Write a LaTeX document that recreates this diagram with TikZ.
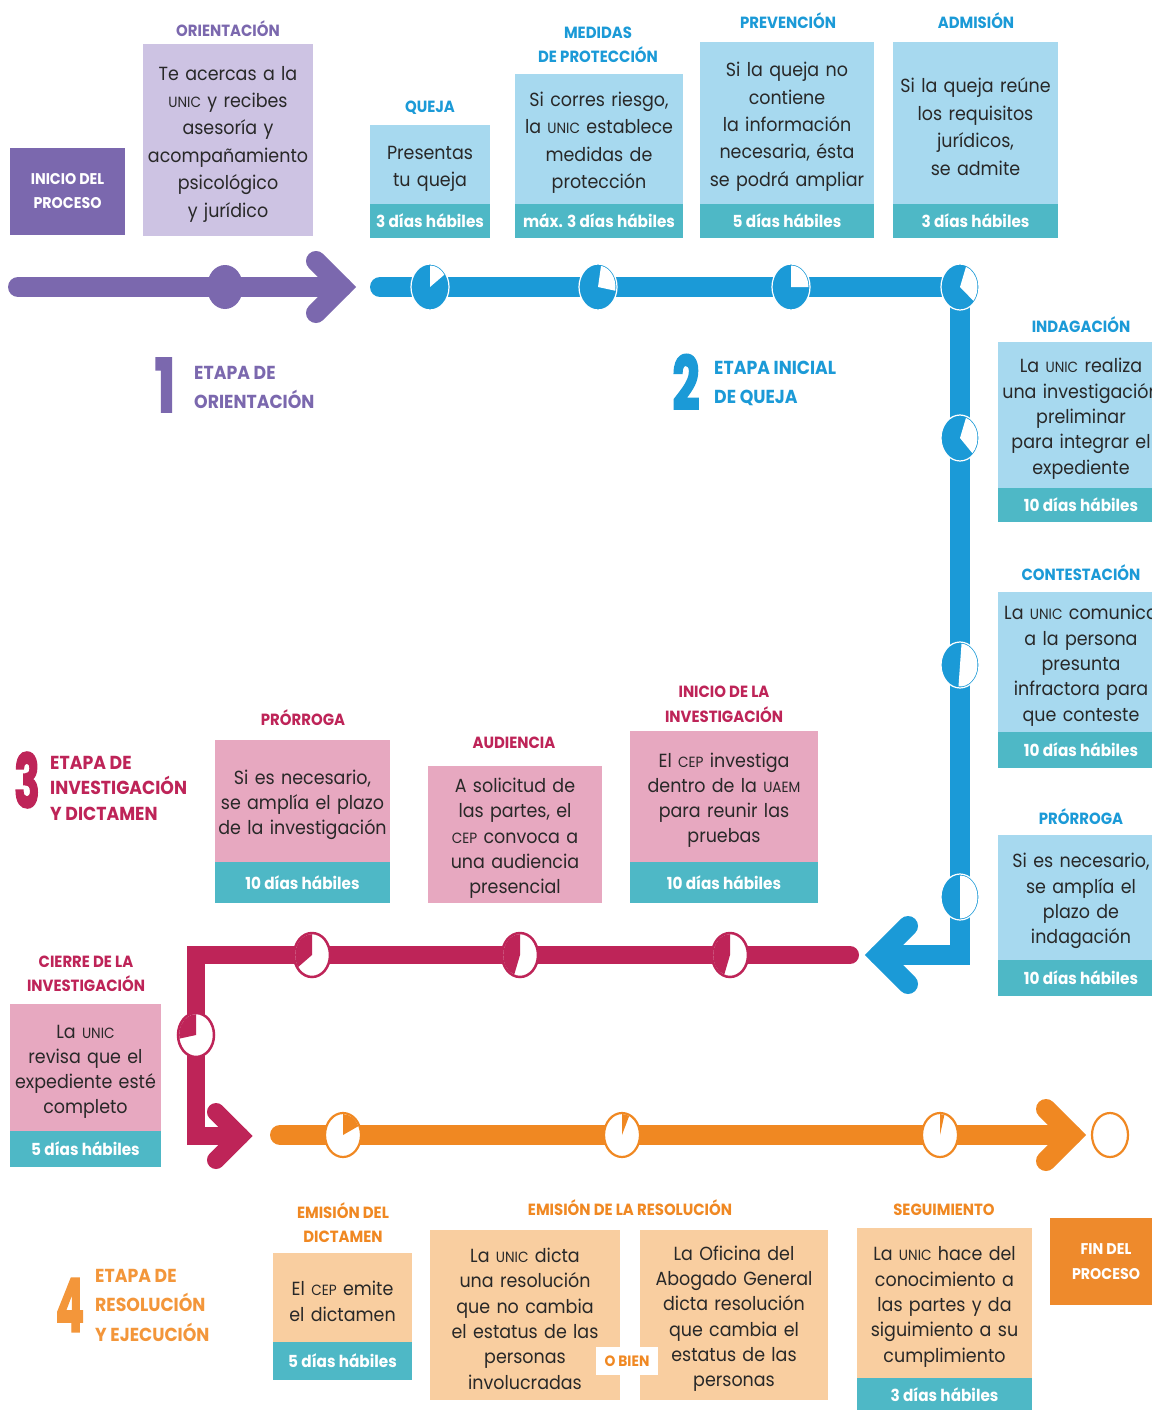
\documentclass[tikz,border=0pt]{standalone}
\usepackage{fontspec}
\setmainfont{Poppins}[FakeStretch=0.92]
\usepackage{graphicx}
\usetikzlibrary{shapes.geometric}
\pgfdeclarelayer{bg}
\pgfsetlayers{bg,main}

\definecolor{purD}{RGB}{123,104,174}
\definecolor{purL}{RGB}{205,195,227}
\definecolor{blu}{RGB}{27,154,215}
\definecolor{bluL}{RGB}{167,217,239}
\definecolor{barT}{RGB}{78,184,198}
\definecolor{mag}{RGB}{190,36,88}
\definecolor{magL}{RGB}{231,168,192}
\definecolor{ora}{RGB}{240,136,34}
\definecolor{oraS}{RGB}{243,150,58}
\definecolor{oraL}{RGB}{249,206,160}
\definecolor{oraD}{RGB}{238,138,44}
\definecolor{txt}{RGB}{40,40,40}

\newcommand\sca[1]{\scalebox{0.78}{#1}}
\newcommand\wdg[6]{\fill[#6] (#1.center) -- ++({-(#2)}:#4 and #5) arc[start angle={-(#2)}, end angle={-(#3)}, x radius=#4, y radius=#5] -- cycle;}

\begin{document}
\begin{tikzpicture}[x=1pt,y=-1pt,
  body/.style={inner sep=0pt, outer sep=0pt, align=center, text=txt, font=\fontsize{19}{25.3}\selectfont, execute at begin node={\rule{0pt}{22pt}}},
  bodyT/.style={body, font=\fontsize{19}{27.4}\selectfont},
  bar/.style={inner sep=0pt, outer sep=0pt, fill=barT, text=white, font=\fontsize{16.6}{18}\selectfont\bfseries},
  ttl/.style={inner sep=0pt, align=center, font=\fontsize{16.2}{24.5}\selectfont\bfseries},
  stg/.style={inner sep=0pt, align=left, anchor=west, font=\fontsize{18.8}{29}\selectfont\bfseries},
  num/.style={inner sep=0pt, font=\fontsize{74}{74}\selectfont\bfseries\addfontfeature{FakeBold=2.5}},
  bicon/.style={ellipse, minimum width=38pt, minimum height=46pt, fill=blu, draw=white, line width=1.2pt, inner sep=0pt},
  micon/.style={ellipse, minimum width=36pt, minimum height=44pt, fill=white, draw=mag, line width=2.5pt, inner sep=0pt},
  oicon/.style={ellipse, minimum width=36pt, minimum height=44pt, fill=white, draw=ora, line width=2.2pt, inner sep=0pt},
  picon/.style={ellipse, minimum width=36pt, minimum height=44pt, fill=purD, inner sep=0pt},
  ln/.style={line width=20pt, line cap=round, line join=miter}]

\useasboundingbox (0,0) rectangle (1151,1410);
\begin{pgfonlayer}{bg}
\fill[white] (0,0) rectangle (1151,1410);
\end{pgfonlayer}

% ---------- coordinates of the timelines ----------
\coordinate (ps) at (18,287);
\coordinate (ptip) at (342,287);
\coordinate (pa1) at (316,261);
\coordinate (pa2) at (316,313);
\coordinate (bs) at (380,287);
\coordinate (bcor) at (960,955);
\coordinate (btip) at (879,955);
\coordinate (ba1) at (908,926);
\coordinate (ba2) at (908,984);
\coordinate (ms) at (850,955);
\coordinate (mc1) at (196,955);
\coordinate (mc2) at (196,1136);
\coordinate (mtip) at (240,1136);
\coordinate (ma1) at (216,1112);
\coordinate (ma2) at (216,1160);
\coordinate (os) at (280,1135);
\coordinate (otip) at (1072,1135);
\coordinate (oa1) at (1046,1109);
\coordinate (oa2) at (1046,1161);

% ---------- icons ----------
\node[picon] (p1) at (225,287) {};
\node[bicon] (q1) at (430,287) {};
\node[bicon] (q2) at (598,287) {};
\node[bicon] (q3) at (791,287) {};
\node[bicon] (q4) at (960,287) {};
\node[bicon] (q5) at (960,438) {};
\node[bicon] (q6) at (960,665) {};
\node[bicon] (q7) at (960,897) {};
\node[micon] (m1) at (730,955) {};
\node[micon] (m2) at (520,955) {};
\node[micon] (m3) at (312,955) {};
\node[micon] (m4) at (196,1035) {};
\node[oicon] (o1) at (343,1135) {};
\node[oicon] (o2) at (622,1135) {};
\node[oicon] (o3) at (940,1135) {};
\node[oicon] (o4) at (1110,1135) {};

\wdg{q1}{90}{35}{17.5}{21.5}{white}
\wdg{q2}{80}{-10}{17.5}{21.5}{white}
\wdg{q3}{90}{0}{17.5}{21.5}{white}
\wdg{q4}{70}{-40}{17.5}{21.5}{white}
\wdg{q5}{70}{-45}{17.5}{21.5}{white}
\wdg{q6}{85}{-95}{17.5}{21.5}{white}
\wdg{q7}{90}{-90}{17.5}{21.5}{white}
\wdg{m1}{90}{250}{16.8}{20.8}{mag}
\wdg{m2}{90}{250}{16.8}{20.8}{mag}
\wdg{m3}{90}{215}{16.8}{20.8}{mag}
\wdg{m4}{90}{190}{16.8}{20.8}{mag}
\wdg{o1}{90}{25}{16.9}{20.9}{ora}
\wdg{o2}{90}{65}{16.9}{20.9}{ora}
\wdg{o3}{90}{75}{16.9}{20.9}{ora}

% ---------- timelines (behind icons) ----------
\begin{pgfonlayer}{bg}
\draw[ln, purD] (ps) -- (p1.center) -- (ptip);
\draw[ln, purD] (pa1) -- (ptip) -- (pa2);
\draw[ln, blu] (bs) -- (q1.center) -- (q4.center) -- (q7.center) -- (bcor) -- (btip);
\draw[ln, blu] (ba1) -- (btip) -- (ba2);
\draw[ln, mag, line width=18pt] (ms) -- (m1.center) -- (mc1) -- (m4.center) -- (mc2) -- (mtip);
\draw[ln, mag, line width=18pt] (ma1) -- (mtip) -- (ma2);
\draw[ln, ora] (os) -- (o1.center) -- (o3.center) -- (otip);
\draw[ln, ora] (oa1) -- (otip) -- (oa2);
\end{pgfonlayer}

% ---------- stage 1 ----------
\node[ttl, text=purD] (tOri) at (228,29) {ORIENTACIÓN};
\node[inner sep=0pt, fill=purD, minimum width=115pt, minimum height=87pt, align=center, text=white, font=\fontsize{15.5}{24}\selectfont\bfseries] (inicio) at (67.5,191.5) {INICIO DEL\\PROCESO};
\node[bodyT, fill=purL, minimum width=170pt, minimum height=192pt, text width=166pt] (ori) at (228,140) {Te acercas a la\\\sca{UNIC} y recibes\\asesoría y\\acompañamiento\\psicológico\\y jurídico};
\node[num, text=purD] (n1) at (165,385) {\scalebox{0.8}[1]{1}};
\node[stg, text=purD] (s1) at (194,387.5) {ETAPA DE\\ORIENTACIÓN};

% ---------- stage 2 ----------
\node[ttl, text=blu] (tQ) at (430,108) {QUEJA};
\node[bodyT, fill=bluL, minimum width=120pt, minimum height=79pt, text width=116pt] (queja) at (430,164.5) {Presentas\\tu queja};
\node[bar, minimum width=120pt, minimum height=34pt] (qbar) at (430,221) {3 días hábiles};

\node[ttl, text=blu] (tM) at (598,45) {MEDIDAS\\DE PROTECCIÓN};
\node[bodyT, fill=bluL, minimum width=168pt, minimum height=130pt, text width=164pt] (med) at (599,139) {Si corres riesgo,\\la \sca{UNIC} establece\\medidas de\\protección};
\node[bar, minimum width=168pt, minimum height=34pt] (mbar) at (599,221) {máx. 3 días hábiles};

\node[ttl, text=blu] (tP) at (788,21) {PREVENCIÓN};
\node[bodyT, fill=bluL, minimum width=174pt, minimum height=162pt, text width=170pt] (prev) at (787,123) {Si la queja no\\contiene\\la información\\necesaria, ésta\\se podrá ampliar};
\node[bar, minimum width=174pt, minimum height=34pt] (pbar) at (787,221) {5 días hábiles};

\node[ttl, text=blu] (tA) at (976,21) {ADMISIÓN};
\node[bodyT, fill=bluL, minimum width=165pt, minimum height=162pt, text width=161pt] (adm) at (975.5,123) {Si la queja reúne\\los requisitos\\jurídicos,\\se admite};
\node[bar, minimum width=165pt, minimum height=34pt] (abar) at (975.5,221) {3 días hábiles};

\node[ttl, text=blu] (tI) at (1081,325) {INDAGACIÓN};
\node[body, fill=bluL, minimum width=166pt, minimum height=146pt, text width=162pt] (ind) at (1081,415) {La \sca{UNIC} realiza\\una investigación\\preliminar\\para integrar el\\expediente};
\node[bar, minimum width=166pt, minimum height=34pt] (ibar) at (1081,505) {10 días hábiles};

\node[ttl, text=blu] (tC) at (1081,573) {CONTESTACIÓN};
\node[body, fill=bluL, minimum width=166pt, minimum height=140pt, text width=162pt] (con) at (1081,662) {La \sca{UNIC} comunica\\a la persona\\presunta\\infractora para\\que conteste};
\node[bar, minimum width=166pt, minimum height=36pt] (cbar) at (1081,750) {10 días hábiles};

\node[ttl, text=blu] (tPr) at (1081,817) {PRÓRROGA};
\node[body, fill=bluL, minimum width=166pt, minimum height=125pt, text width=162pt] (pro) at (1081,897.5) {Si es necesario,\\se amplía el\\plazo de\\indagación};
\node[bar, minimum width=166pt, minimum height=36pt] (prbar) at (1081,978) {10 días hábiles};

\node[num, text=blu] (n2) at (686,382) {\scalebox{0.7}[1]{2}};
\node[stg, text=blu] (s2) at (714,383.5) {ETAPA INICIAL\\DE QUEJA};

% ---------- stage 3 ----------
\node[ttl, text=mag] (tPm) at (303,718) {PRÓRROGA};
\node[body, fill=magL, minimum width=175pt, minimum height=122pt, text width=171pt] (prm) at (302.5,801) {Si es necesario,\\se amplía el plazo\\de la investigación};
\node[bar, minimum width=175pt, minimum height=41pt] (prmbar) at (302.5,882.5) {10 días hábiles};

\node[ttl, text=mag] (tAu) at (514,743) {AUDIENCIA};
\node[body, fill=magL, minimum width=174pt, minimum height=137pt, text width=170pt] (aud) at (515,834.5) {A solicitud de\\las partes, el\\\sca{CEP} convoca a\\una audiencia\\presencial};

\node[ttl, text=mag] (tIn) at (724,704.5) {INICIO DE LA\\INVESTIGACIÓN};
\node[body, fill=magL, minimum width=188pt, minimum height=131pt, text width=184pt] (ini) at (724,796.5) {El \sca{CEP} investiga\\dentro de la \sca{UAEM}\\para reunir las\\pruebas};
\node[bar, minimum width=188pt, minimum height=41pt] (inibar) at (724,882.5) {10 días hábiles};

\node[ttl, text=mag] (tCi) at (86,974) {CIERRE DE LA\\INVESTIGACIÓN};
\node[body, fill=magL, minimum width=151pt, minimum height=127pt, text width=147pt] (cie) at (85.5,1067.5) {La \sca{UNIC}\\revisa que el\\expediente esté\\completo};
\node[bar, minimum width=151pt, minimum height=36pt] (ciebar) at (85.5,1149) {5 días hábiles};

\node[num, text=mag] (n3) at (27,780) {\scalebox{0.62}[1]{3}};
\node[stg, text=mag, font=\fontsize{18.8}{25.5}\selectfont\bfseries] (s3) at (50,788) {ETAPA DE\\INVESTIGACIÓN\\Y DICTAMEN};

% ---------- stage 4 ----------
\node[ttl, text=ora] (tD) at (343,1222.5) {EMISIÓN DEL\\DICTAMEN};
\node[body, fill=oraL, minimum width=139pt, minimum height=89pt, text width=135pt] (dic) at (342.5,1297.5) {El \sca{CEP} emite\\el dictamen};
\node[bar, minimum width=139pt, minimum height=38pt] (dicbar) at (342.5,1361) {5 días hábiles};

\node[ttl, text=ora] (tR) at (630,1208) {EMISIÓN DE LA RESOLUCIÓN};
\node[body, fill=oraL, minimum width=190pt, minimum height=170pt, text width=186pt] (r1) at (525,1315) {La \sca{UNIC} dicta\\una resolución\\que no cambia\\el estatus de las\\personas\\involucradas};
\node[body, fill=oraL, minimum width=188pt, minimum height=170pt, text width=184pt] (r2) at (734,1315) {La Oficina del\\Abogado General\\dicta resolución\\que cambia el\\estatus de las\\personas};
\node[fill=white, inner sep=0pt, minimum width=62pt, minimum height=28pt, text=ora, font=\fontsize{15}{15}\selectfont\bfseries] (obien) at (627,1361) {O BIEN};

\node[ttl, text=ora] (tS) at (944,1210) {SEGUIMIENTO};
\node[body, fill=oraL, minimum width=175pt, minimum height=150pt, text width=171pt] (seg) at (944.5,1303) {La \sca{UNIC} hace del\\conocimiento a\\las partes y da\\siguimiento a su\\cumplimiento};
\node[bar, minimum width=175pt, minimum height=34pt] (segbar) at (944.5,1395) {3 días hábiles};

\node[fill=oraD, inner sep=0pt, minimum width=112pt, minimum height=87pt, align=center, text=white, font=\fontsize{15.5}{25}\selectfont\bfseries] (fin) at (1106,1261.5) {FIN DEL\\PROCESO};

\node[num, text=oraS] (n4) at (70,1305) {\scalebox{0.62}[1]{4}};
\node[stg, text=oraS, font=\fontsize{18.8}{29.5}\selectfont\bfseries] (s4) at (95,1305) {ETAPA DE\\RESOLUCIÓN\\Y EJECUCIÓN};
\end{tikzpicture}
\end{document}
